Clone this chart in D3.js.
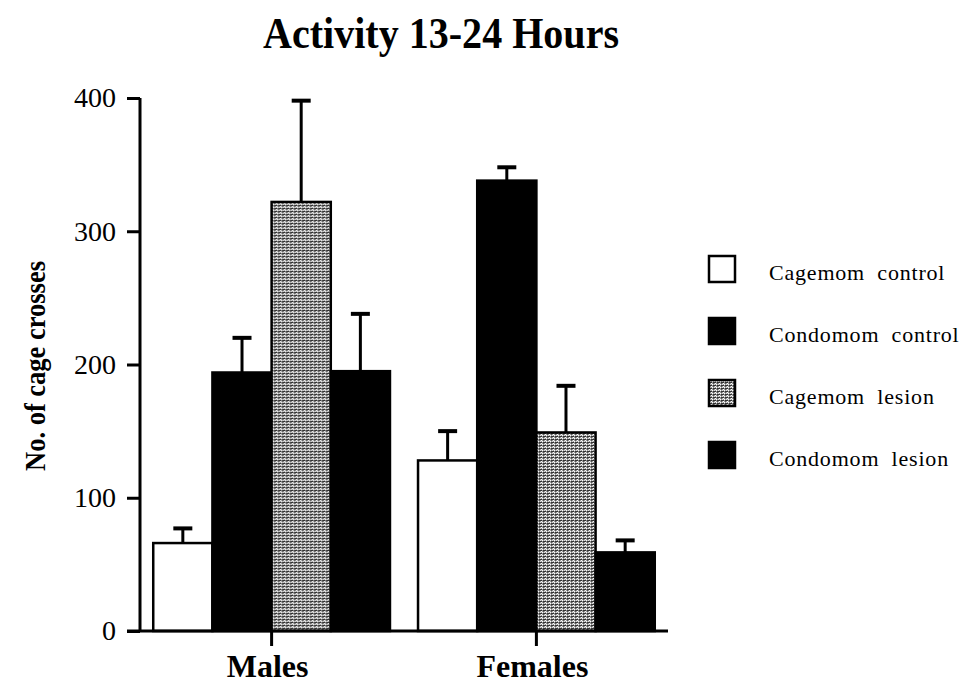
<!DOCTYPE html>
<html><head><meta charset="utf-8">
<script src="https://cdn.jsdelivr.net/npm/d3@7"></script>
<style>body{margin:0;background:#fff}svg{display:block}</style>
</head><body>
<svg id="c" width="961" height="683"></svg>
<script>
const groups = ["Males", "Females"];
const seriesNames = ["Cagemom control", "Condomom control", "Cagemom lesion", "Condomom lesion"];
const means = [
  [66, 194, 322, 195],
  [128, 338, 149, 59]
];
const errs = [
  [77, 220, 398, 238],
  [150, 348, 184, 68]
];
const yTicks = [0, 100, 200, 300, 400];

const svg = d3.select("#c");
const defs = svg.append("defs");
const pat = defs.append("pattern").attr("id","stip").attr("patternUnits","userSpaceOnUse")
  .attr("width",4).attr("height",3);
pat.append("rect").attr("width",4).attr("height",3).attr("fill","#9a9a9a");
pat.append("rect").attr("x",0).attr("y",0).attr("width",1).attr("height",1).attr("fill","#fff");
pat.append("rect").attr("x",2).attr("y",0).attr("width",1).attr("height",1).attr("fill","#e0e0e0");
pat.append("rect").attr("x",1).attr("y",1).attr("width",3).attr("height",1).attr("fill","#333");
pat.append("rect").attr("x",3).attr("y",2).attr("width",1).attr("height",1).attr("fill","#fff");
pat.append("rect").attr("x",1).attr("y",2).attr("width",1).attr("height",1).attr("fill","#555");

const fills = ["#fff", "#000", "url(#stip)", "#000"];

const y = d3.scaleLinear().domain([0,400]).range([631,98]);
const x0 = d3.scaleBand().domain(groups).range([140,668]).paddingInner(0.106).paddingOuter(0.05);
const x1 = d3.scaleBand().domain(seriesNames).range([0, x0.bandwidth()]);

const font = "'Liberation Serif','Times New Roman',serif";

// bars
groups.forEach((g, gi) => {
  const gg = svg.append("g").attr("transform", `translate(${x0(g)},0)`);
  seriesNames.forEach((s, si) => {
    const bx = x1(s), bw = x1.bandwidth();
    const cx = bx + bw/2;
    gg.append("line").attr("x1",cx).attr("x2",cx)
      .attr("y1",y(means[gi][si])).attr("y2",y(errs[gi][si]))
      .attr("stroke","#000").attr("stroke-width",3);
    gg.append("line").attr("x1",cx-9.5).attr("x2",cx+9.5)
      .attr("y1",y(errs[gi][si])).attr("y2",y(errs[gi][si]))
      .attr("stroke","#000").attr("stroke-width",4);
    gg.append("rect").attr("x",bx).attr("width",bw)
      .attr("y",y(means[gi][si])).attr("height",y(0)-y(means[gi][si]))
      .attr("fill",fills[si]).attr("stroke","#000").attr("stroke-width",2.5);
  });
});

// y axis
const ya = svg.append("g").attr("transform","translate(140,0)")
  .call(d3.axisLeft(y).tickValues(yTicks).tickSize(13).tickPadding(11).tickFormat(d3.format("d")));
ya.select(".domain").attr("stroke-width",3).attr("d", `M0,${y(400)}V${y(0)}`);
ya.selectAll(".tick line").attr("stroke-width",3);
ya.selectAll("text").attr("font-family",font).attr("font-size",28).attr("fill","#000");

// x axis
const xa = svg.append("g").attr("transform",`translate(0,${y(0)})`)
  .call(d3.axisBottom(x0).tickSize(15).tickPadding(0));
xa.select(".domain").attr("stroke-width",3).attr("d","M127,0H668");
xa.selectAll(".tick line").attr("stroke-width",3);
xa.selectAll("text").attr("font-family",font).attr("font-size",32).attr("font-weight","bold")
  .attr("fill","#000").attr("dy",null).attr("y",46).attr("dx",-4);

// title
svg.append("text").attr("x",441).attr("y",48).attr("text-anchor","middle")
  .attr("font-family",font).attr("font-size",45).attr("font-weight","bold")
  .attr("textLength",356).attr("lengthAdjust","spacingAndGlyphs").text("Activity 13-24 Hours");

// y label
svg.append("text").attr("transform","translate(45,366) rotate(-90)").attr("text-anchor","middle")
  .attr("font-family",font).attr("font-size",30).attr("font-weight","bold")
  .attr("textLength",210).attr("lengthAdjust","spacingAndGlyphs")
  .text("No. of cage crosses");

// legend
const lg = svg.append("g");
seriesNames.forEach((s, i) => {
  const base = 280 + i*62;
  lg.append("rect").attr("x",709).attr("y",base-24).attr("width",26).attr("height",26)
    .attr("fill",fills[i]).attr("stroke","#000").attr("stroke-width",2.5);
  lg.append("text").attr("x",769).attr("y",base).attr("font-family",font)
    .attr("font-size",22).attr("letter-spacing",0.8).attr("word-spacing",6).text(s);
});
</script>
</body></html>
